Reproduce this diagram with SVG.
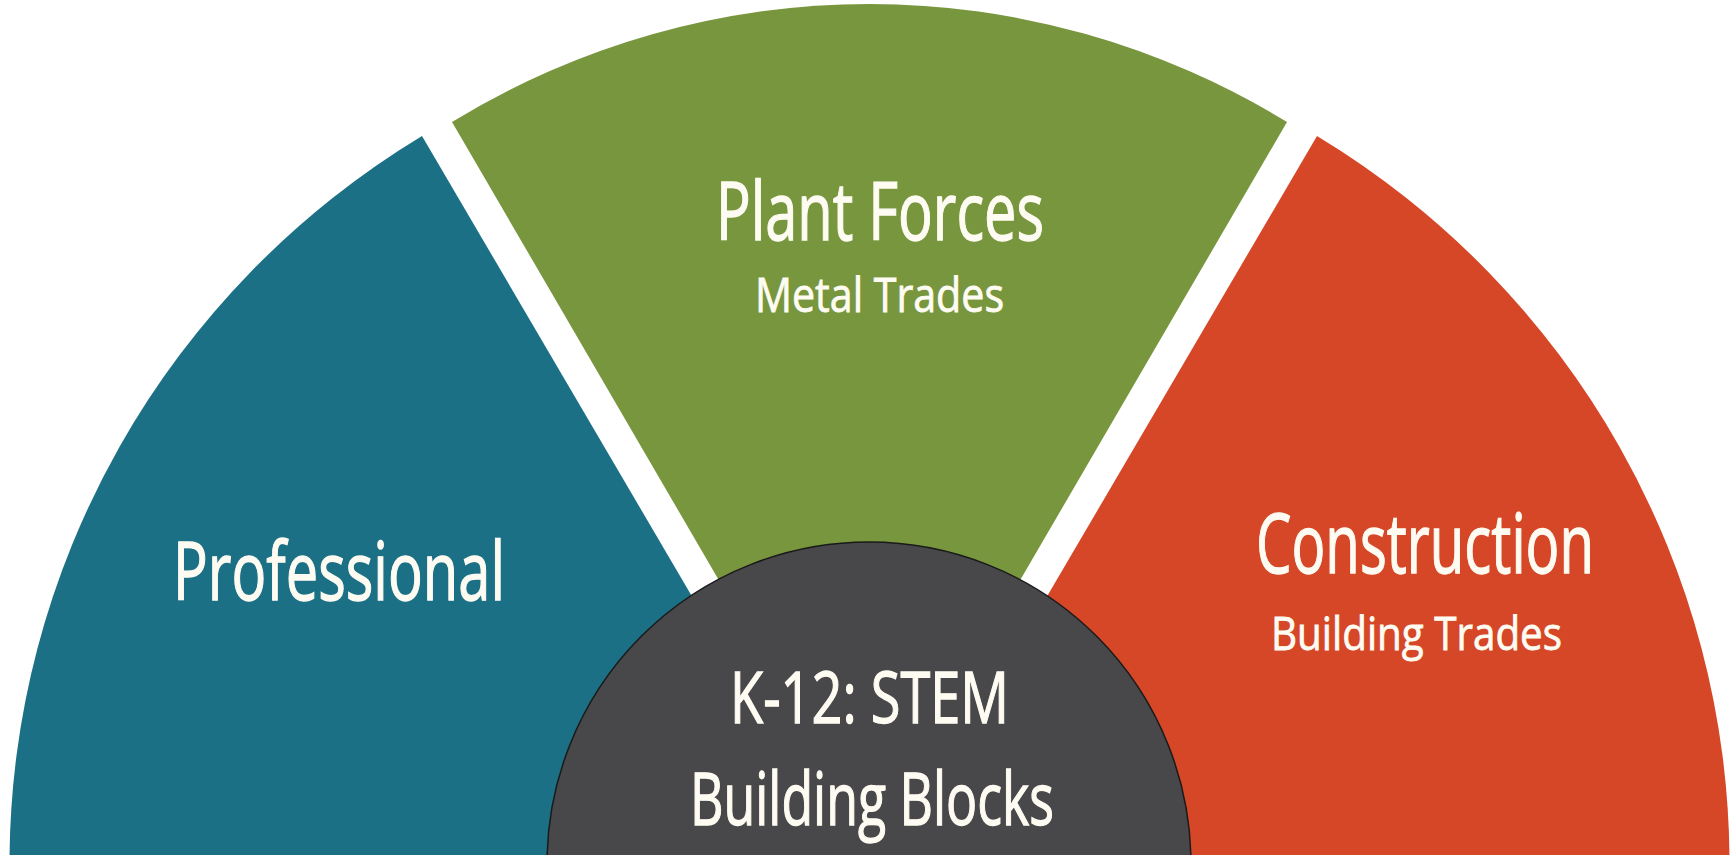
<svg xmlns="http://www.w3.org/2000/svg" width="1735" height="855" viewBox="0 0 1735 855">
<style>
.t{font-family:"Open Sans","Liberation Sans",sans-serif;font-weight:400;fill:#fefcf2;stroke:#fefcf2;stroke-width:1.3;}
.s{stroke-width:0.8;}
</style>
<rect x="0" y="0" width="1735" height="855" fill="#ffffff"/>
<g id="professional">
<path d="M 9.5 864 A 860 852.5 0 0 1 422 136 L 848.9 864 Z" fill="#1c7086"/>
<text class="t" x="173" y="600" font-size="81" textLength="332" lengthAdjust="spacingAndGlyphs">Professional</text>
</g>
<g id="plant-forces">
<path d="M 869.5 838.8 L 452 122 A 825.8 860 0 0 1 1287 122 Z" fill="#78963e"/>
<text class="t" x="716" y="240" font-size="81" textLength="328" lengthAdjust="spacingAndGlyphs">Plant Forces</text>
<text class="t s" x="755" y="312" font-size="47" textLength="249" lengthAdjust="spacingAndGlyphs">Metal Trades</text>
</g>
<g id="construction">
<path d="M 890.1 864 L 1317 136 A 860 852.5 0 0 1 1729.5 864 Z" fill="#d64728"/>
<text class="t" x="1256" y="573" font-size="82" textLength="338" lengthAdjust="spacingAndGlyphs">Construction</text>
<text class="t s" x="1271" y="650" font-size="46" textLength="291" lengthAdjust="spacingAndGlyphs">Building Trades</text>
</g>
<g id="k12">
<circle cx="869" cy="864" r="322" fill="#48484a" stroke="#1a1a1a" stroke-width="1.5"/>
<text class="t" x="730" y="723" font-size="71" textLength="279" lengthAdjust="spacingAndGlyphs">K-12: STEM</text>
<text class="t" x="690" y="825" font-size="73" textLength="364" lengthAdjust="spacingAndGlyphs">Building Blocks</text>
</g>
<g id="connectors"/>
</svg>
